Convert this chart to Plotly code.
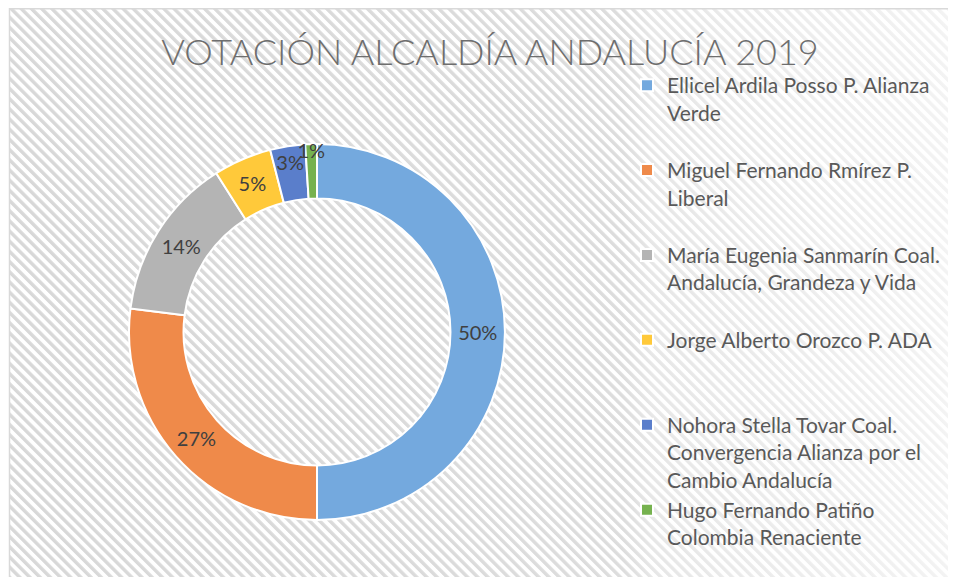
import base64
import plotly.graph_objects as go

# ---- data ----
candidates = [
    "Ellicel Ardila Posso P. Alianza<br>Verde",
    "Miguel Fernando Rmírez P.<br>Liberal",
    "María Eugenia Sanmarín Coal.<br>Andalucía, Grandeza y Vida",
    "Jorge Alberto Orozco P. ADA",
    "Nohora Stella Tovar Coal.<br>Convergencia Alianza por el<br>Cambio Andalucía",
    "Hugo Fernando Patiño<br>Colombia Renaciente",
]
vote_share = [50, 27, 14, 5, 3, 1]
slice_colors = ["#74A9DE", "#EF8A4A", "#B4B4B4", "#FFC93A", "#5A7ECB", "#76B24F"]
title_text = "VOTACIÓN ALCALDÍA ANDALUCÍA 2019"

# legend spacing: pad each entry to a number of text lines (display only)
legend_lines = [3, 3, 3, 3, 3, 2]
NB = "\u00a0"
display_labels = []
for lab, n in zip(candidates, legend_lines):
    have = lab.count("<br>") + 1
    display_labels.append(lab + ("<br>" + NB) * max(0, n - have))

# the page places the figure 8px from the top-left corner
OFF = 8
W, H = 956 - OFF, 577 - OFF


def fx(px):
    return (px - OFF) / W


def fy(py):
    return 1 - (py - OFF) / H


# ---- hatched background as an SVG image ----
step = 0.667
svg = f'''<svg xmlns="http://www.w3.org/2000/svg" width="{W}" height="{H}" viewBox="0 0 {W} {H}">
<defs>
<pattern id="p" width="7.2" height="7.2" patternUnits="userSpaceOnUse" patternTransform="rotate(-45)">
<rect width="7.2" height="7.2" fill="#ffffff"/>
<rect width="3.4" height="7.2" fill="#d8d8d8"/>
</pattern>
<linearGradient id="g" x1="0" x2="1" y1="0" y2="0">
<stop offset="0" stop-color="#ffffff" stop-opacity="0"/>
<stop offset="{step - 0.02}" stop-color="#ffffff" stop-opacity="0.12"/>
<stop offset="{step + 0.01}" stop-color="#ffffff" stop-opacity="0.38"/>
<stop offset="1" stop-color="#ffffff" stop-opacity="0.7"/>
</linearGradient>
</defs>
<rect width="{W}" height="{H}" fill="#ffffff"/>
<rect x="1.5" y="0" width="{W}" height="{H}" fill="url(#p)"/>
<rect x="1.5" y="0" width="{W}" height="{H}" fill="url(#g)"/>
<line x1="1.5" y1="0.75" x2="{W}" y2="0.75" stroke="#d9d9d9" stroke-width="1.5"/>
<line x1="1.5" y1="0" x2="1.5" y2="{H}" stroke="#d9d9d9" stroke-width="1.5"/>
</svg>'''
bg_src = "data:image/svg+xml;base64," + base64.b64encode(svg.encode("utf-8")).decode("ascii")

# donut centre / radius in page pixels
cx, cy, r = 317, 332, 188

fig = go.Figure(
    go.Pie(
        labels=display_labels,
        values=vote_share,
        sort=False,
        direction="clockwise",
        rotation=0,
        hole=0.71,
        marker=dict(colors=slice_colors, line=dict(color="#ffffff", width=2)),
        texttemplate="%{percent:.0%}",
        textposition="inside",
        insidetextorientation="horizontal",
        textfont=dict(family="Lato", size=20, color="#404040"),
        domain=dict(x=[fx(cx - r), fx(cx + r)], y=[fy(cy + r), fy(cy - r)]),
        hoverinfo="label+percent",
    )
)

fig.update_layout(
    width=W,
    height=H,
    autosize=False,
    margin=dict(l=0, r=0, t=0, b=0),
    paper_bgcolor="#ffffff",
    plot_bgcolor="rgba(0,0,0,0)",
    uniformtext=dict(minsize=20, mode="show"),
    title=dict(
        text=title_text,
        x=fx(490),
        xanchor="center",
        xref="container",
        y=fy(52),
        yanchor="middle",
        yref="container",
        font=dict(family="Lato", size=36, color="#6e6e6e", weight=300),
    ),
    legend=dict(
        x=(619) / W,
        xanchor="left",
        y=1 - 57 / H,
        yanchor="top",
        bgcolor="rgba(0,0,0,0)",
        valign="top",
        font=dict(family="Lato", size=21, color="#595959"),
        traceorder="normal",
    ),
    images=[
        dict(
            source=bg_src,
            xref="paper",
            yref="paper",
            x=0,
            y=1,
            sizex=1,
            sizey=1,
            xanchor="left",
            yanchor="top",
            sizing="stretch",
            layer="below",
        )
    ],
)

fig.write_html("out.html")
